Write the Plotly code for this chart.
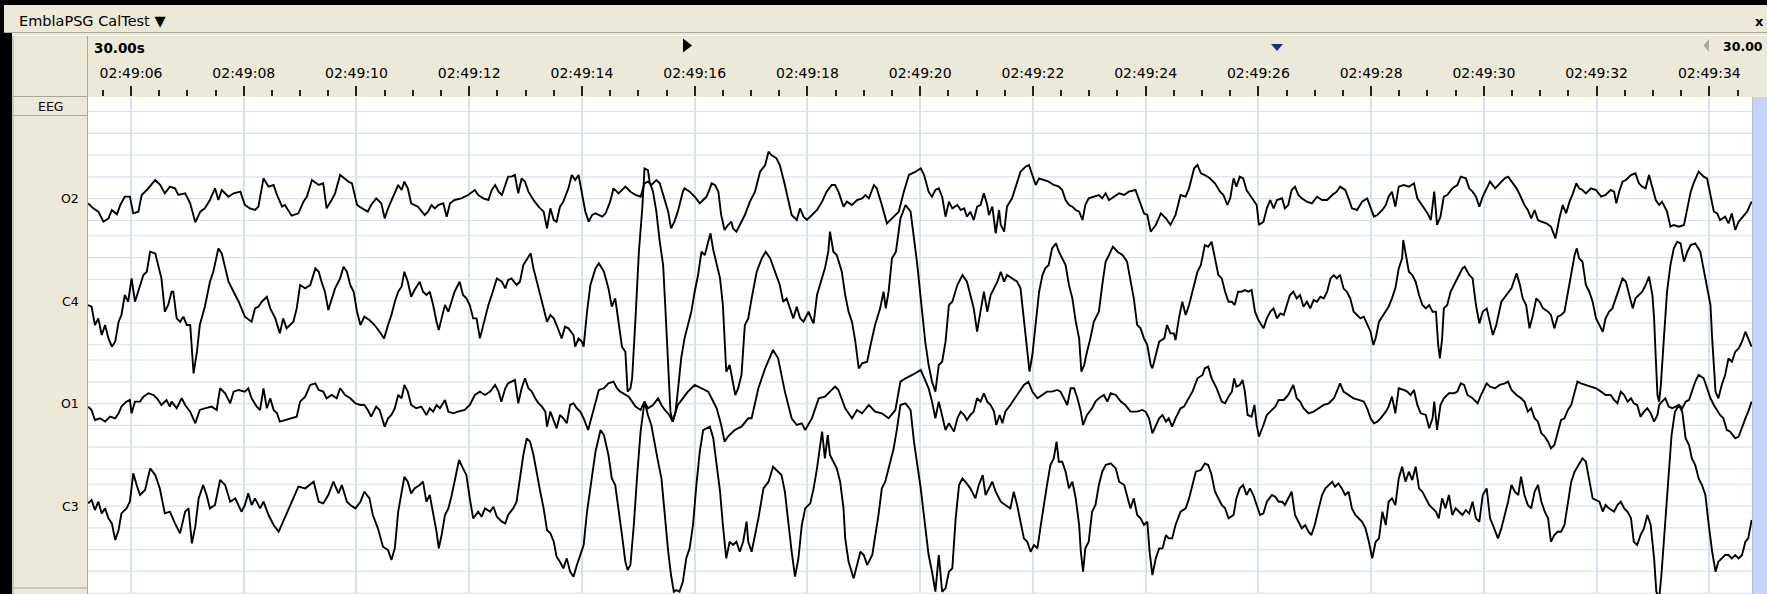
import plotly.graph_objects as go

# ---------------- data (time in s after 02:49:00, amplitude in µV) ----------------
O2 = [(5.24,-16),(5.33,-31),(5.42,-41),(5.51,-71),(5.60,-61),(5.66,-36),(5.75,-49),(5.81,-21),(5.89,4),(5.98,4),(6.04,-46),(6.13,-41),(6.19,9),(6.28,24),(6.43,54),(6.52,39),(6.60,14),(6.69,34),(6.78,29),(6.84,9),(6.96,14),(7.05,-16),(7.14,-73),(7.23,-41),(7.31,-31),(7.40,-6),(7.49,29),(7.55,-6),(7.61,24),(7.73,4),(7.82,14),(7.94,19),(8.02,-21),(8.11,-31),(8.20,-36),(8.26,-26),(8.35,59),(8.44,34),(8.53,39),(8.59,9),(8.68,-26),(8.73,-21),(8.85,-53),(8.97,-46),(9.06,-11),(9.12,4),(9.21,54),(9.33,39),(9.41,44),(9.47,-31),(9.56,-6),(9.62,14),(9.71,69),(9.86,49),(9.92,44),(10.01,-21),(10.10,-31),
      (10.20,-41),(10.26,-21),(10.35,-1),(10.44,-16),(10.50,-61),(10.56,-31),(10.62,-6),(10.68,14),(10.74,39),(10.80,24),(10.85,49),(10.91,29),(10.97,-16),(11.09,-26),(11.21,-51),(11.27,-41),(11.33,-21),(11.39,-31),(11.45,-21),(11.54,-16),(11.60,-56),(11.66,-16),(11.74,-6),(11.86,-1),(11.98,9),(12.10,24),(12.16,9),(12.25,-1),(12.34,-6),(12.40,24),(12.46,39),(12.52,19),(12.58,9),(12.64,39),(12.69,64),(12.75,64),(12.81,69),(12.87,14),(12.93,59),(12.99,49),(13.05,19),(13.14,-6),(13.23,-26),(13.32,-41),(13.38,-91),(13.44,-31),(13.50,-66),(13.55,-71),(13.61,-26),(13.67,-11),(13.76,29),(13.82,69),(13.88,54),(13.94,69),(14.00,19),(14.06,-41),(14.12,-71),(14.18,-51),(14.24,-46),(14.30,-51),(14.36,-56),(14.42,-46),(14.50,-11),(14.56,29),(14.65,14),(14.77,34),(14.86,19),(14.95,9),(15.04,4),
      (15.11,44),(15.17,49),(15.23,39),(15.32,54),(15.38,44),(15.47,-11),(15.53,-41),(15.58,-91),(15.64,-71),(15.70,-41),(15.79,19),(15.82,29),(15.91,19),(16.00,4),(16.09,-16),(16.15,-6),(16.21,4),(16.27,29),(16.30,44),(16.36,39),(16.42,19),(16.47,-51),(16.53,-96),(16.59,-81),(16.65,-71),(16.68,-91),(16.74,-101),(16.80,-81),(16.89,-51),(16.98,-11),(17.07,19),(17.16,79),(17.25,99),(17.31,139),(17.36,129),(17.45,119),(17.51,99),(17.60,39),(17.72,-51),(17.81,-66),(17.87,-31),(17.93,-56),(17.99,-66),(18.08,-51),(18.17,-36),(18.26,-11),(18.34,19),(18.43,39),(18.49,39),(18.55,19),(18.64,-26),(18.70,-11),(18.79,-21),(18.88,-6),(18.97,-1),(19.03,9),(19.09,-1),(19.18,39),(19.23,29),(19.32,-21),(19.41,-76),(19.50,-61),(19.62,-41),(19.71,19),(19.80,69),(19.92,79),(20.01,89),(20.07,69),
      (20.15,19),(20.21,4),(20.27,24),(20.33,29),(20.39,4),(20.45,-56),(20.51,-11),(20.57,-31),(20.66,-21),(20.72,-36),(20.78,-31),(20.83,-56),(20.89,-41),(20.95,-66),(21.01,-26),(21.07,-21),(21.13,14),(21.19,-21),(21.22,-51),(21.28,-26),(21.34,-106),(21.40,-36),(21.43,-81),(21.49,-101),(21.54,-26),(21.63,-1),(21.69,29),(21.78,79),(21.87,94),(21.93,99),(21.99,69),(22.05,39),(22.11,59),(22.20,54),(22.28,49),(22.37,39),(22.46,34),(22.52,24),(22.58,-6),(22.64,-21),(22.70,-26),(22.76,-36),(22.82,-41),(22.88,-66),(22.93,-21),(22.99,-1),(23.08,4),(23.17,9),(23.23,-1),(23.29,14),(23.35,-6),(23.44,4),(23.53,14),(23.62,9),(23.70,19),(23.82,24),(23.91,-16),(23.97,-46),(24.03,-51),(24.09,-101),(24.18,-81),(24.27,-46),(24.36,-61),(24.44,-81),(24.53,-51),(24.62,9),(24.71,4),(24.77,29),(24.86,89),(24.92,99),(24.98,74),
      (25.05,69),(25.14,59),(25.23,44),(25.32,19),(25.38,9),(25.45,-21),(25.50,-1),(25.56,59),(25.61,34),(25.67,64),(25.73,59),(25.79,24),(25.85,9),(25.91,-6),(25.97,-21),(26.01,-81),(26.09,-71),(26.15,-31),(26.21,-6),(26.27,-31),(26.33,-6),(26.42,-1),(26.47,-31),(26.53,-21),(26.59,24),(26.65,34),(26.71,9),(26.77,-1),(26.86,-11),(26.95,-16),(27.04,4),(27.13,-6),(27.22,-6),(27.31,9),(27.39,19),(27.45,34),(27.54,24),(27.60,-1),(27.66,-31),(27.75,-36),(27.84,-11),(27.93,-1),(27.99,-26),(28.05,-56),(28.11,-51),(28.20,-36),(28.26,-21),(28.31,4),(28.37,19),(28.43,-26),(28.49,34),(28.58,39),(28.67,34),(28.76,44),(28.82,-1),(28.88,-16),(28.94,-31),(29.00,-46),(29.06,-66),(29.12,19),(29.17,-81),(29.23,-56),(29.29,4),(29.35,9),(29.44,29),(29.53,39),(29.59,64),(29.68,59),(29.74,29),(29.80,19),(29.86,4),(29.92,-26),(29.98,4),
      (30.05,29),(30.11,49),(30.20,29),(30.28,44),(30.37,59),(30.43,64),(30.49,49),(30.58,29),(30.64,9),(30.72,-21),(30.78,-36),(30.84,-61),(30.90,-36),(30.96,-66),(31.02,-71),(31.11,-76),(31.19,-86),(31.27,-121),(31.34,-61),(31.40,-21),(31.46,-46),(31.52,-11),(31.58,14),(31.64,44),(31.69,29),(31.75,24),(31.81,14),(31.90,29),(31.99,24),(32.08,4),(32.16,9),(32.25,24),(32.31,19),(32.35,-16),(32.40,19),(32.46,49),(32.52,54),(32.61,69),(32.69,74),(32.75,44),(32.81,34),(32.87,29),(32.93,69),(32.99,29),(33.05,-6),(33.11,-21),(33.16,-11),(33.25,-41),(33.31,-86),(33.37,-81),(33.46,-86),(33.55,-81),(33.61,-31),(33.67,19),(33.72,44),(33.81,79),(33.90,64),(33.96,59),(34.02,9),(34.08,-41),(34.14,-46),(34.19,-66),(34.28,-56),(34.34,-76),(34.40,-46),(34.46,-96),(34.52,-71),(34.61,-51),(34.67,-41),(34.75,-11)]

C4 = [(5.24,-10),(5.30,-15),(5.36,-70),(5.42,-50),(5.48,-100),(5.54,-70),(5.60,-110),(5.66,-135),(5.72,-120),(5.78,-60),(5.83,-40),(5.89,20),(5.95,0),(6.01,70),(6.07,0),(6.13,30),(6.22,80),(6.28,90),(6.34,150),(6.43,145),(6.49,100),(6.54,70),(6.60,-30),(6.66,-10),(6.72,30),(6.75,30),(6.81,-50),(6.87,-60),(6.93,-45),(6.99,-70),(7.05,-70),(7.08,-130),(7.11,-215),(7.17,-150),(7.22,-70),(7.31,-15),(7.40,60),(7.46,90),(7.55,160),(7.61,145),(7.67,100),(7.73,60),(7.82,30),(7.91,0),(8.02,-45),(8.14,-60),(8.20,-20),(8.26,-15),(8.32,0),(8.41,15),(8.47,-20),(8.56,-50),(8.64,-95),(8.70,-50),(8.76,-80),(8.82,-70),(8.88,-60),(8.94,-20),(9.00,50),(9.09,40),(9.18,50),(9.27,100),(9.33,90),(9.38,60),(9.44,30),(9.50,-25),(9.56,10),(9.62,40),(9.71,70),(9.77,105),(9.83,90),(9.89,50),(9.95,30),(10.01,-30),(10.07,-70),
      (10.14,-45),(10.23,-55),(10.32,-70),(10.41,-90),(10.49,-110),(10.56,-70),(10.62,-40),(10.68,0),(10.74,30),(10.80,45),(10.85,90),(10.91,60),(10.97,15),(11.03,35),(11.12,60),(11.18,30),(11.24,20),(11.30,30),(11.36,-10),(11.42,-60),(11.46,-85),(11.51,-50),(11.57,-10),(11.63,-30),(11.69,0),(11.74,30),(11.83,60),(11.89,20),(11.95,10),(12.01,-10),(12.07,-50),(12.13,-50),(12.19,-110),(12.25,-70),(12.34,-10),(12.40,20),(12.49,70),(12.58,60),(12.64,40),(12.69,65),(12.75,70),(12.84,50),(12.90,60),(12.96,110),(13.05,135),(13.09,145),(13.14,100),(13.20,60),(13.26,20),(13.32,-20),(13.38,-60),(13.44,-40),(13.50,-50),(13.55,-70),(13.64,-110),(13.70,-75),(13.76,-80),(13.85,-100),(13.88,-135),(13.94,-110),(14.00,-120),(14.03,-135),(14.09,-30),(14.15,50),(14.24,100),(14.30,115),(14.39,90),(14.47,40),(14.53,-15),(14.59,10),(14.65,-70),(14.71,-135),(14.77,-150),(14.81,-270),(14.86,-260),(14.89,-230),(14.95,-50),(15.01,150),(15.07,280),
      (15.11,400),(15.17,395),(15.20,360),(15.26,330),(15.32,270),(15.38,180),(15.44,110),(15.48,-20),(15.53,-170),(15.57,-330),(15.61,-360),(15.66,-330),(15.70,-270),(15.76,-170),(15.82,-110),(15.88,-70),(15.94,-30),(16.00,30),(16.06,80),(16.12,150),(16.18,140),(16.24,180),(16.28,205),(16.33,155),(16.39,110),(16.45,70),(16.50,-10),(16.53,-120),(16.56,-210),(16.62,-190),(16.68,-250),(16.72,-280),(16.77,-260),(16.83,-220),(16.89,-70),(16.95,-50),(17.01,10),(17.10,90),(17.19,130),(17.26,150),(17.34,130),(17.42,90),(17.51,50),(17.57,0),(17.63,10),(17.69,-20),(17.75,-50),(17.81,-15),(17.87,-50),(17.93,-60),(18.02,-30),(18.08,-55),(18.11,-65),(18.17,20),(18.26,70),(18.31,100),(18.37,150),(18.40,210),(18.46,150),(18.52,140),(18.61,90),(18.67,20),(18.73,-30),(18.79,-60),(18.85,-120),(18.91,-200),(18.97,-185),(19.06,-180),(19.12,-130),(19.20,-70),(19.29,-20),(19.35,30),(19.39,-20),(19.44,30),(19.50,130),(19.57,150),(19.65,250),(19.74,290),(19.83,270),(19.89,190),(19.95,110),(20.01,10),
      (20.09,-120),(20.15,-190),(20.21,-240),(20.27,-270),(20.33,-190),(20.39,-180),(20.45,-120),(20.51,-10),(20.57,0),(20.66,50),(20.75,80),(20.83,60),(20.89,20),(20.95,-20),(21.01,-90),(21.07,-30),(21.13,30),(21.19,-30),(21.25,20),(21.31,40),(21.37,60),(21.43,90),(21.49,60),(21.54,80),(21.63,70),(21.72,60),(21.78,40),(21.84,-50),(21.90,-150),(21.94,-210),(21.99,-160),(22.05,-70),(22.11,30),(22.17,80),(22.22,100),(22.28,110),(22.34,160),(22.41,175),(22.46,150),(22.52,130),(22.58,110),(22.64,50),(22.70,10),(22.76,-60),(22.82,-110),(22.86,-210),(22.91,-190),(22.96,-150),(23.02,-110),(23.08,-60),(23.17,-30),(23.23,50),(23.29,120),(23.35,140),(23.42,165),(23.50,150),(23.59,140),(23.67,120),(23.73,70),(23.79,10),(23.85,-70),(23.91,-80),(23.97,-110),(24.03,-130),(24.09,-190),(24.12,-200),(24.18,-160),(24.24,-120),(24.33,-110),(24.38,-70),(24.44,-95),(24.50,-95),(24.53,-115),(24.59,-50),(24.65,0),(24.71,-40),(24.77,-10),(24.83,30),(24.92,90),(24.98,110),
      (25.05,170),(25.11,165),(25.17,180),(25.23,130),(25.29,80),(25.35,70),(25.41,30),(25.47,0),(25.53,0),(25.58,-10),(25.64,30),(25.70,30),(25.76,35),(25.82,30),(25.88,35),(25.94,-30),(26.00,-55),(26.09,-80),(26.15,-50),(26.21,-30),(26.27,-20),(26.33,-50),(26.39,-35),(26.45,-40),(26.50,-10),(26.56,20),(26.62,30),(26.68,10),(26.74,20),(26.80,-15),(26.86,0),(26.92,-20),(26.98,5),(27.04,0),(27.10,15),(27.16,10),(27.22,30),(27.28,70),(27.34,80),(27.39,70),(27.45,80),(27.51,40),(27.57,30),(27.63,10),(27.69,-30),(27.75,-40),(27.81,-50),(27.87,-45),(27.93,-70),(27.99,-90),(28.04,-130),(28.08,-110),(28.14,-60),(28.20,-45),(28.26,-30),(28.31,-15),(28.37,10),(28.43,40),(28.49,100),(28.55,130),(28.57,185),(28.61,150),(28.67,90),(28.73,80),(28.79,60),(28.85,20),(28.91,-10),(28.97,-20),(29.03,-10),(29.09,-30),(29.15,-30),(29.19,-130),(29.22,-170),(29.26,-110),(29.29,-20),(29.35,-10),(29.41,30),(29.47,50),(29.56,80),(29.62,100),(29.66,105),(29.74,80),(29.80,70),(29.86,-10),(29.92,-65),(29.98,-30),
      (30.05,-20),(30.11,-60),(30.16,-100),(30.22,-70),(30.31,0),(30.40,20),(30.49,40),(30.58,85),(30.64,50),(30.69,10),(30.75,-10),(30.81,-80),(30.87,-40),(30.93,10),(30.99,0),(31.05,-20),(31.14,-30),(31.19,-40),(31.25,-80),(31.31,-45),(31.37,-40),(31.43,-30),(31.49,30),(31.55,90),(31.61,140),(31.65,160),(31.69,130),(31.75,120),(31.81,50),(31.87,30),(31.93,0),(31.99,-50),(32.05,-70),(32.11,-90),(32.16,-50),(32.22,-30),(32.28,-20),(32.34,10),(32.40,40),(32.46,70),(32.52,60),(32.58,20),(32.64,-20),(32.69,10),(32.75,20),(32.81,30),(32.87,50),(32.93,75),(32.99,20),(33.02,-50),(33.05,-170),(33.08,-280),(33.11,-300),(33.14,-250),(33.19,-120),(33.25,30),(33.31,110),(33.37,160),(33.43,180),(33.49,175),(33.55,120),(33.61,150),(33.67,170),(33.75,175),(33.84,150),(33.90,100),(33.96,40),(34.02,-10),(34.05,-110),(34.08,-210),(34.11,-270),(34.16,-290),(34.22,-250),(34.28,-220),(34.34,-170),(34.40,-180),(34.46,-150),(34.52,-140),(34.58,-120),(34.64,-90),(34.69,-110),(34.75,-135)]

O1 = [(5.24,-10),(5.30,-20),(5.36,-50),(5.45,-45),(5.54,-55),(5.63,-40),(5.72,-45),(5.78,-30),(5.83,-10),(5.92,5),(5.98,10),(6.01,-30),(6.07,5),(6.16,5),(6.22,20),(6.31,30),(6.40,25),(6.46,15),(6.54,-5),(6.63,10),(6.69,-10),(6.72,5),(6.81,-15),(6.90,15),(6.96,-5),(7.05,-25),(7.14,-60),(7.22,-20),(7.31,-15),(7.43,-10),(7.52,-20),(7.58,45),(7.67,30),(7.76,0),(7.82,35),(7.91,40),(8.02,35),(8.08,45),(8.14,15),(8.23,-10),(8.29,-20),(8.35,45),(8.41,-15),(8.47,15),(8.53,-20),(8.59,-30),(8.64,-55),(8.73,-50),(8.85,-45),(8.94,-40),(9.00,5),(9.09,20),(9.18,55),(9.27,60),(9.33,40),(9.41,35),(9.47,15),(9.56,25),(9.65,15),(9.71,45),(9.80,25),(9.89,15),(9.98,0),(10.07,-5),
      (10.14,-5),(10.20,-20),(10.26,-40),(10.35,-10),(10.41,-20),(10.50,-70),(10.56,-45),(10.62,-35),(10.68,-15),(10.74,25),(10.80,15),(10.85,55),(10.91,35),(10.97,-5),(11.06,-15),(11.15,-10),(11.24,-35),(11.30,-15),(11.36,-25),(11.42,-5),(11.48,-15),(11.57,10),(11.63,-25),(11.72,-30),(11.80,-25),(11.92,-20),(12.01,-5),(12.10,25),(12.19,35),(12.28,25),(12.37,35),(12.46,55),(12.52,35),(12.57,5),(12.64,45),(12.69,60),(12.75,65),(12.81,70),(12.87,0),(12.93,45),(12.99,75),(13.05,45),(13.11,35),(13.17,15),(13.23,0),(13.29,-10),(13.35,-25),(13.38,-70),(13.44,-25),(13.50,-50),(13.55,-75),(13.61,-35),(13.67,-45),(13.73,-60),(13.79,-5),(13.85,0),(13.91,-15),(13.97,-25),(14.03,-45),(14.11,-80),(14.18,-35),(14.24,5),(14.30,40),(14.39,45),(14.47,60),(14.56,65),(14.62,45),(14.68,35),(14.77,25),(14.83,20),(14.89,5),(14.95,-10),(15.04,-20),
      (15.11,5),(15.17,-15),(15.26,-5),(15.35,15),(15.41,-5),(15.47,-20),(15.55,-35),(15.61,-55),(15.70,-5),(15.79,15),(15.88,35),(16.00,55),(16.12,45),(16.24,35),(16.30,15),(16.39,-15),(16.47,-65),(16.53,-115),(16.59,-100),(16.71,-80),(16.83,-70),(16.95,-45),(17.01,-45),(17.13,45),(17.25,105),(17.39,160),(17.48,135),(17.60,35),(17.72,-45),(17.81,-65),(17.90,-60),(17.96,-80),(18.08,-45),(18.20,15),(18.31,20),(18.40,35),(18.49,50),(18.55,40),(18.67,-15),(18.73,-30),(18.79,-45),(18.88,-20),(18.97,-30),(19.09,-5),(19.20,-25),(19.32,-30),(19.44,-45),(19.56,-20),(19.65,65),(19.74,75),(19.86,85),(20.01,100),
      (20.09,65),(20.15,45),(20.21,5),(20.27,-45),(20.33,5),(20.39,-35),(20.45,-80),(20.51,-60),(20.60,-85),(20.66,-45),(20.72,-25),(20.78,-35),(20.83,-50),(20.89,-35),(20.95,-25),(21.01,15),(21.07,5),(21.13,30),(21.19,5),(21.25,-5),(21.31,-25),(21.35,-65),(21.41,-35),(21.46,-60),(21.51,-25),(21.60,-5),(21.66,10),(21.75,35),(21.84,55),(21.92,65),(21.99,35),(22.08,15),(22.17,25),(22.25,35),(22.34,35),(22.43,40),(22.49,35),(22.55,15),(22.61,-5),(22.67,45),(22.73,45),(22.79,15),(22.85,-25),(22.89,-65),(22.96,-35),(23.05,-15),(23.11,5),(23.17,15),(23.26,25),(23.32,5),(23.38,30),(23.47,25),(23.56,5),(23.64,-5),(23.73,-25),(23.85,-25),(23.94,-20),(24.00,-25),(24.06,-45),(24.12,-90),(24.18,-65),(24.24,-45),(24.30,-35),(24.36,-55),(24.41,-45),(24.47,-70),(24.53,-45),(24.62,-15),(24.68,-10),(24.77,15),(24.83,35),(24.92,75),(25.01,85),
      (25.05,105),(25.11,110),(25.17,75),(25.26,45),(25.35,5),(25.41,0),(25.47,20),(25.53,35),(25.57,75),(25.61,50),(25.67,55),(25.72,70),(25.76,35),(25.81,-35),(25.88,-40),(25.93,-5),(25.97,-65),(26.01,-100),(26.09,-65),(26.15,-35),(26.21,-25),(26.30,-10),(26.36,10),(26.45,10),(26.53,25),(26.59,45),(26.62,55),(26.68,15),(26.74,5),(26.80,-15),(26.89,-30),(26.98,-25),(27.07,-15),(27.16,-5),(27.25,0),(27.34,15),(27.39,35),(27.45,60),(27.51,35),(27.60,25),(27.69,15),(27.78,10),(27.87,5),(27.93,-15),(27.99,-45),(28.05,-60),(28.11,-55),(28.17,-45),(28.26,-25),(28.31,-10),(28.37,20),(28.43,-30),(28.49,45),(28.58,40),(28.64,35),(28.70,25),(28.76,40),(28.82,-5),(28.88,-30),(28.97,-35),(29.03,-75),(29.09,-45),(29.12,5),(29.17,-80),(29.23,-5),(29.29,15),(29.38,30),(29.47,30),(29.53,35),(29.59,60),(29.65,55),(29.71,25),(29.80,15),(29.89,0),(29.95,25),
      (30.05,60),(30.11,50),(30.20,45),(30.28,55),(30.37,60),(30.43,65),(30.49,40),(30.58,25),(30.66,15),(30.72,5),(30.78,-25),(30.84,-15),(30.90,-45),(30.96,-55),(31.02,-90),(31.08,-100),(31.14,-115),(31.19,-135),(31.25,-125),(31.31,-85),(31.37,-50),(31.43,-45),(31.49,-20),(31.55,-5),(31.61,35),(31.66,65),(31.72,60),(31.81,55),(31.90,50),(31.99,45),(32.08,35),(32.16,25),(32.25,25),(32.31,10),(32.37,0),(32.43,35),(32.49,25),(32.55,5),(32.61,15),(32.66,0),(32.72,-5),(32.78,-40),(32.84,-25),(32.90,-15),(32.96,-30),(33.02,-55),(33.08,-35),(33.11,-5),(33.16,5),(33.22,15),(33.28,-10),(33.34,-15),(33.40,-10),(33.46,-5),(33.52,-15),(33.58,5),(33.64,10),(33.69,35),(33.75,65),(33.81,85),(33.90,75),(33.96,45),(34.02,15),(34.08,-5),(34.14,-20),(34.19,-35),(34.25,-45),(34.31,-80),(34.37,-85),(34.46,-105),(34.52,-100),(34.58,-70),(34.64,-45),(34.69,-25),(34.75,5)]

C3 = [(5.24,10),(5.30,20),(5.36,-10),(5.42,15),(5.48,-20),(5.54,-5),(5.60,-35),(5.66,-50),(5.72,-100),(5.78,-70),(5.83,-20),(5.92,-5),(5.98,15),(6.04,100),(6.10,65),(6.16,35),(6.25,50),(6.34,115),(6.43,95),(6.51,55),(6.60,-20),(6.69,-15),(6.78,-50),(6.87,-80),(6.96,-15),(7.02,-5),(7.08,-110),(7.14,-60),(7.20,25),(7.28,65),(7.34,35),(7.40,-5),(7.49,5),(7.58,80),(7.67,65),(7.76,15),(7.85,25),(7.96,-15),(8.02,5),(8.08,40),(8.14,5),(8.20,25),(8.29,-5),(8.35,15),(8.44,-25),(8.53,-55),(8.62,-75),(8.70,-45),(8.76,-20),(8.82,5),(8.91,35),(8.97,60),(9.09,55),(9.24,75),(9.33,15),(9.41,10),(9.50,35),(9.59,75),(9.68,40),(9.74,65),(9.83,15),(9.89,5),(9.98,-5),(10.07,15),
      (10.14,45),(10.23,25),(10.29,-25),(10.38,-65),(10.47,-120),(10.56,-130),(10.62,-160),(10.68,-125),(10.74,-15),(10.80,45),(10.85,90),(10.91,75),(10.97,40),(11.03,55),(11.12,65),(11.18,75),(11.24,15),(11.30,35),(11.36,-15),(11.42,-75),(11.46,-125),(11.51,-85),(11.57,-25),(11.63,-5),(11.69,35),(11.74,75),(11.82,140),(11.89,115),(11.95,95),(12.01,25),(12.07,-35),(12.16,-15),(12.22,-30),(12.28,-5),(12.37,-15),(12.43,0),(12.49,-30),(12.58,-45),(12.64,-50),(12.69,-25),(12.78,-5),(12.84,15),(12.90,85),(12.96,155),(13.02,205),(13.08,195),(13.14,155),(13.20,95),(13.26,45),(13.32,-5),(13.38,-70),(13.44,-80),(13.50,-105),(13.55,-150),(13.61,-165),(13.67,-185),(13.73,-155),(13.79,-195),(13.85,-210),(13.91,-175),(13.97,-145),(14.03,-115),(14.09,-15),(14.15,55),(14.24,165),(14.33,230),(14.39,215),(14.47,155),(14.53,85),(14.59,65),(14.65,-5),(14.71,-85),(14.77,-165),(14.81,-190),(14.86,-175),(14.92,-55),(14.98,95),(15.04,225),
      (15.11,315),(15.17,275),(15.23,245),(15.29,185),(15.35,135),(15.41,85),(15.47,-35),(15.53,-135),(15.58,-205),(15.63,-255),(15.67,-250),(15.73,-255),(15.79,-225),(15.85,-155),(15.91,-125),(15.97,-55),(16.03,65),(16.09,165),(16.15,230),(16.21,235),(16.27,240),(16.33,205),(16.39,125),(16.45,45),(16.50,-55),(16.56,-155),(16.62,-105),(16.68,-115),(16.74,-105),(16.80,-135),(16.86,-105),(16.92,-45),(16.95,-105),(17.01,-135),(17.07,-85),(17.13,-35),(17.22,55),(17.31,75),(17.39,120),(17.48,105),(17.54,95),(17.60,45),(17.66,-55),(17.72,-135),(17.78,-210),(17.84,-155),(17.90,-55),(17.96,-5),(18.05,10),(18.11,55),(18.17,115),(18.23,185),(18.26,225),(18.31,145),(18.36,215),(18.40,155),(18.46,135),(18.52,115),(18.58,75),(18.64,-5),(18.67,-95),(18.73,-165),(18.82,-215),(18.88,-175),(18.94,-135),(19.00,-145),(19.06,-175),(19.15,-145),(19.20,-95),(19.26,-25),(19.32,55),(19.38,75),(19.47,135),(19.53,175),(19.59,235),(19.65,305),(19.74,310),(19.83,290),(19.89,195),(19.95,125),(20.01,55),
      (20.09,-60),(20.15,-145),(20.21,-195),(20.27,-255),(20.33,-145),(20.39,-255),(20.45,-245),(20.51,-195),(20.57,-185),(20.63,-35),(20.69,65),(20.75,85),(20.80,75),(20.89,55),(20.98,25),(21.04,65),(21.11,95),(21.16,35),(21.22,55),(21.28,75),(21.34,45),(21.43,15),(21.51,5),(21.60,-5),(21.66,45),(21.72,5),(21.78,-45),(21.84,-95),(21.90,-105),(21.96,-135),(22.02,-115),(22.08,-125),(22.14,-55),(22.20,15),(22.25,65),(22.31,125),(22.37,145),(22.42,195),(22.46,135),(22.52,135),(22.58,105),(22.64,55),(22.70,75),(22.76,25),(22.82,-55),(22.85,-135),(22.89,-195),(22.93,-125),(22.99,-105),(23.05,-15),(23.11,5),(23.17,65),(23.23,105),(23.29,125),(23.38,130),(23.47,115),(23.53,75),(23.62,65),(23.67,35),(23.73,-5),(23.79,25),(23.85,-25),(23.91,-35),(23.97,-55),(24.03,-45),(24.07,-135),(24.12,-205),(24.18,-155),(24.24,-125),(24.30,-125),(24.36,-85),(24.41,-95),(24.47,-95),(24.53,-55),(24.62,-15),(24.71,-5),(24.77,25),(24.83,65),(24.89,105),(24.98,110),
      (25.05,130),(25.11,125),(25.17,95),(25.23,45),(25.29,25),(25.35,5),(25.41,-5),(25.47,-35),(25.56,-25),(25.61,25),(25.67,55),(25.73,65),(25.79,35),(25.85,55),(25.91,35),(25.97,5),(26.03,-25),(26.09,-20),(26.15,15),(26.24,35),(26.30,30),(26.36,15),(26.42,15),(26.47,5),(26.53,25),(26.59,45),(26.65,-25),(26.71,-45),(26.77,-65),(26.83,-55),(26.89,-75),(26.94,-85),(27.00,-55),(27.07,-5),(27.13,35),(27.19,55),(27.25,65),(27.31,75),(27.36,60),(27.42,70),(27.48,55),(27.54,35),(27.60,45),(27.66,-5),(27.72,-25),(27.78,-35),(27.84,-45),(27.90,-65),(27.96,-105),(28.02,-155),(28.08,-105),(28.14,-95),(28.20,-15),(28.26,-55),(28.31,15),(28.37,25),(28.43,5),(28.49,85),(28.55,120),(28.61,75),(28.67,105),(28.73,80),(28.79,120),(28.85,55),(28.91,45),(28.97,25),(29.03,5),(29.09,-5),(29.15,-15),(29.20,-35),(29.26,25),(29.32,-5),(29.38,35),(29.44,-25),(29.50,-5),(29.56,-15),(29.62,-25),(29.68,-10),(29.74,-20),(29.80,15),(29.86,-35),(29.92,-45),(29.98,35),
      (30.05,55),(30.11,-35),(30.16,-55),(30.25,-95),(30.31,-65),(30.37,-25),(30.43,15),(30.49,65),(30.55,45),(30.61,35),(30.66,90),(30.72,35),(30.78,5),(30.84,-5),(30.90,45),(30.96,65),(31.02,15),(31.08,-15),(31.14,-35),(31.19,-105),(31.25,-85),(31.31,-75),(31.37,-75),(31.43,-55),(31.49,15),(31.55,75),(31.61,105),(31.66,120),(31.75,145),(31.81,135),(31.87,75),(31.93,25),(31.99,20),(32.05,15),(32.11,-15),(32.16,5),(32.22,-5),(32.31,-15),(32.37,5),(32.43,15),(32.49,-5),(32.55,-15),(32.61,-35),(32.66,-105),(32.72,-115),(32.78,-85),(32.84,-65),(32.90,-25),(32.96,-55),(33.02,-155),(33.06,-255),(33.11,-275),(33.15,-205),(33.21,-55),(33.27,95),(33.33,215),(33.39,285),(33.46,305),(33.52,285),(33.58,205),(33.64,185),(33.69,145),(33.75,125),(33.81,85),(33.87,65),(33.93,35),(33.99,-55),(34.05,-135),(34.11,-195),(34.16,-165),(34.22,-155),(34.28,-145),(34.34,-145),(34.40,-155),(34.46,-145),(34.52,-155),(34.58,-145),(34.64,-105),(34.69,-95),(34.75,-40)]

CHANNELS = ["O2", "C4", "O1", "C3"]
SERIES = {"O2": O2, "C4": C4, "O1": O1, "C3": C3}
TICK_SECONDS = [6, 8, 10, 12, 14, 16, 18, 20, 22, 24, 26, 28, 30, 32, 34]
TICK_LABELS = ["02:49:06", "02:49:08", "02:49:10", "02:49:12", "02:49:14", "02:49:16", "02:49:18",
               "02:49:20", "02:49:22", "02:49:24", "02:49:26", "02:49:28", "02:49:30", "02:49:32", "02:49:34"]
TITLE = "EmblaPSG CalTest \u25BC"
WINDOW_LABEL = "30.00s"
WINDOW_LABEL_RIGHT = "30.00"

# ---------------- layout geometry (pixels) ----------------
W, H = 1767, 594
PL, PR, PT, PB = 88, 1752, 97, 594
UV_PER_PX = 3.0
X0, X1 = 5.237, 34.757
CH_ROW = {"O2": 198, "C4": 301.7, "O1": 403.3, "C3": 506.7}

BEIGE = "#ECE9D8"
EDGE = "#ACA899"
GRID = "#D6E2EF"
FONT = "DejaVu Sans"


def px(X):
    return (X - PL) / (PR - PL)


def py(P):
    return (PB - P) / (PB - PT)


fig = go.Figure()
for ch in CHANNELS:
    pts = SERIES[ch]
    off = (PB - CH_ROW[ch]) * UV_PER_PX
    fig.add_trace(go.Scatter(x=[t for t, _ in pts], y=[off + v for _, v in pts], mode="lines",
                             line=dict(color="#000000", width=1.9), name=ch, hoverinfo="skip"))

shapes = []


def rect(x0, y0, x1, y1, fill, layer="below"):
    shapes.append(dict(type="rect", xref="paper", yref="paper", x0=px(x0), x1=px(x1), y0=py(y1), y1=py(y0),
                       fillcolor=fill, line=dict(width=0), layer=layer))


def hline(x0, x1, P, color, w=1, layer="below"):
    shapes.append(dict(type="line", xref="paper", yref="paper", x0=px(x0), x1=px(x1), y0=py(P), y1=py(P),
                       line=dict(color=color, width=w), layer=layer))


def vline(X, p0, p1, color, w=1, layer="below"):
    shapes.append(dict(type="line", xref="paper", yref="paper", x0=px(X), x1=px(X), y0=py(p0), y1=py(p1),
                       line=dict(color=color, width=w), layer=layer))


def poly(points, fill, layer="above"):
    d = "M " + " L ".join(f"{px(a):.5f},{py(b):.5f}" for a, b in points) + " Z"
    shapes.append(dict(type="path", xref="paper", yref="paper", path=d, fillcolor=fill,
                       line=dict(width=0), layer=layer))


# window chrome
rect(4, 5, 1767, 32.5, BEIGE)
hline(4, 1767, 32.5, EDGE, 1)
rect(12, 33, 1767, 594, BEIGE)
hline(12, 1767, 35.5, "#FFFFFF", 1)
rect(PL, PT, PR, PB, "#FFFFFF")
# left label column
vline(13, 36, 594, EDGE, 1)
vline(87.5, 36, 594, EDGE, 1)
hline(13, 88, 96.5, EDGE, 1)
hline(13, 88, 115.5, EDGE, 1)
hline(13, 88, 588, EDGE, 1)
# horizontal grid lines (per-channel zones)
for zone in range(4):
    top = PT + zone * 124.25
    for k in range(6):
        P = top + 14.5 + 21.8 * k
        if P < PB:
            hline(PL, PR, P, GRID, 1.2)
# scrollbar
rect(1752, PT, 1767, PB, "#C4D4FB", layer="above")
vline(1752.5, PT, PB, "#A9BFEF", 1, layer="above")
# header markers
poly([(683, 38.5), (692, 45.5), (683, 52.5)], "#000000")
poly([(1271, 44), (1283, 44), (1277, 51)], "#1B2C8F")
poly([(1709, 39), (1703.5, 45.5), (1709, 52)], "#A8A8A8")

annotations = []


def text(X, P, s, size=12, bold=False, anchor="left", color="#000000"):
    annotations.append(dict(xref="paper", yref="paper", x=px(X), y=py(P), text=(f"<b>{s}</b>" if bold else s),
                            showarrow=False, xanchor=anchor, yanchor="middle",
                            font=dict(family=FONT, size=size, color=color)))


text(17, 20.5, TITLE, size=14.5)
text(1766, 21, "x", size=13, bold=True, anchor="right")
text(92, 48, WINDOW_LABEL, size=13.5, bold=True)
text(1765, 46, WINDOW_LABEL_RIGHT, size=12.5, bold=True, anchor="right")
text(50, 106.5, "EEG", size=12.5, anchor="center")
for ch in CHANNELS:
    text(81, CH_ROW[ch], ch, size=12.5, anchor="right")

fig.update_layout(
    width=W, height=H, autosize=False,
    margin=dict(l=PL, r=W - PR, t=PT, b=H - PB, pad=0),
    paper_bgcolor="#000000", plot_bgcolor="#FFFFFF",
    showlegend=False, shapes=shapes, annotations=annotations,
    xaxis=dict(range=[X0, X1], side="top", tickmode="array", tickvals=TICK_SECONDS, ticktext=TICK_LABELS,
               ticks="outside", ticklen=10, tickwidth=2, tickcolor="#222222",
               tickfont=dict(family=FONT, size=14, color="#000000"), ticklabelstandoff=2,
               showgrid=True, gridcolor=GRID, gridwidth=1.6, zeroline=False, showline=False,
               minor=dict(tick0=6, dtick=0.5, ticks="outside", ticklen=6, tickwidth=1.5,
                          tickcolor="#222222", showgrid=False),
               fixedrange=True),
    yaxis=dict(range=[0, (PB - PT) * UV_PER_PX], showgrid=False, zeroline=False, showticklabels=False,
               ticks="", showline=False, fixedrange=True),
)

fig.write_html("out.html", config={"displayModeBar": False},
               post_script="document.body.style.margin='0';document.body.style.overflow='hidden';")
